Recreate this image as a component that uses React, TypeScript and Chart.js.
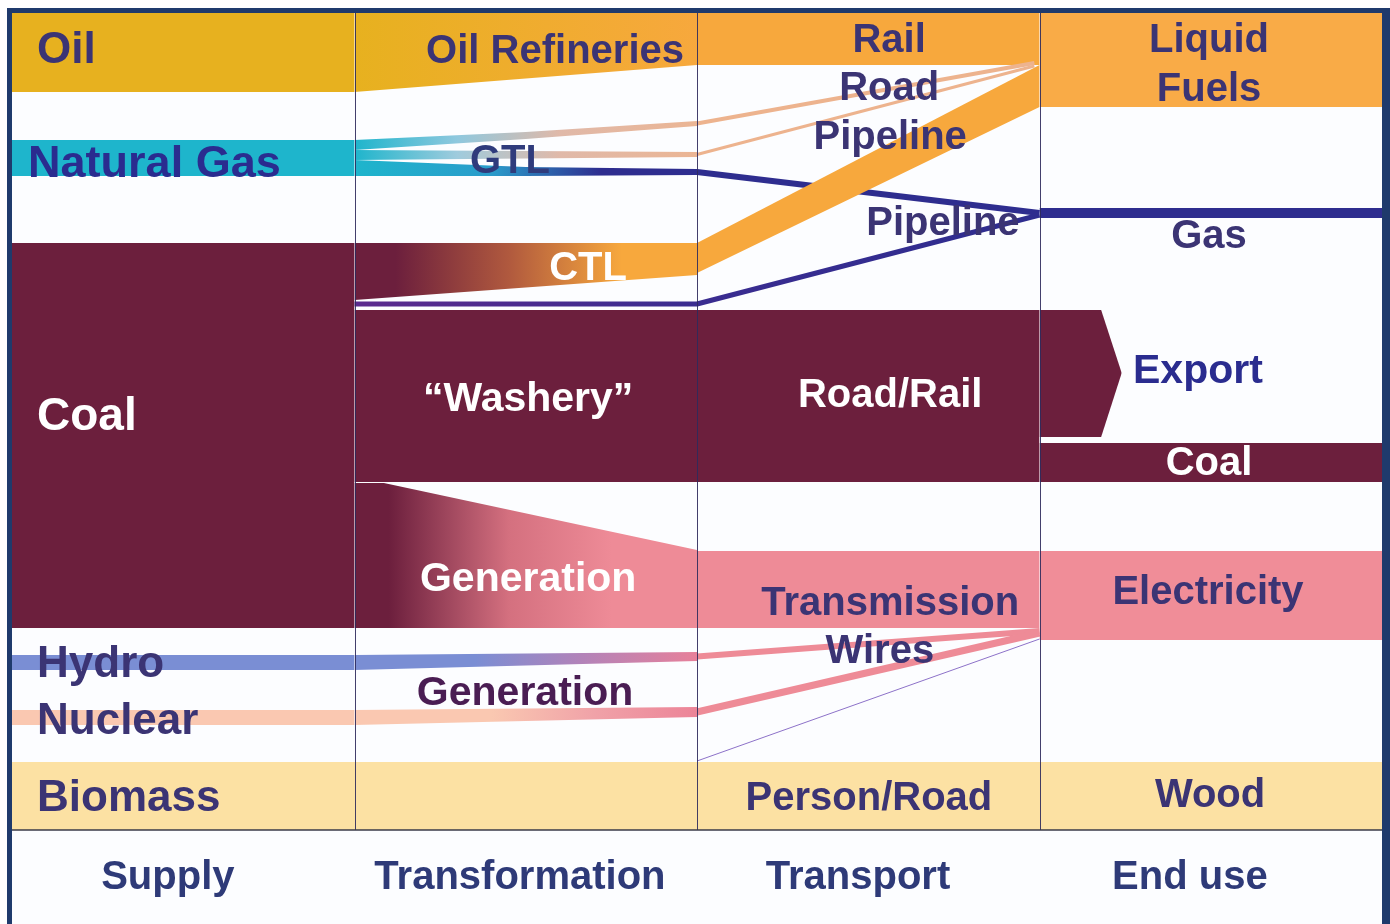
import React, { useEffect, useRef } from 'react';
import { Chart, registerables } from 'chart.js';

Chart.register(...registerables);

// ---------- stages (x axis: one unit per stage column, 0..4) ----------
const stageNames = ['Supply', 'Transformation', 'Transport', 'End use'];
const stageTickX = [0.455, 1.483, 2.47, 3.439];
const columnDividers = [1, 2, 3];
const diagramBottom = 830;

// ---------- bands: rows of [x, topY, bottomY] (y grows downward) ----------
const biomassBand = [[0, 762, 830], [4, 762, 830]];
const oilSupply = [[0, 13, 92], [1, 13, 92]];
const oilRefineries = [[1, 13, 92], [2, 13, 65]];
const railBand = [[2, 13, 65], [3, 13, 65]];
const liquidFuels = [[3, 13, 107], [4, 13, 107]];
const pipelineLiquid = [[2, 243, 273], [3, 65, 107]];
const gasSupply = [[0, 140, 176], [1, 140, 176]];
const gtlUpper = [[1, 140, 150], [1.5, 132, 139], [2, 121, 126]];
const gtlMiddle = [[1, 150, 160], [2, 152, 157]];
const gtlLower = [[1, 160, 176], [1.5, 167, 176], [2, 169, 175]];
const gasEndUse = [[3, 208, 218], [4, 208, 218]];
const coalSupply = [[0, 243, 628], [1, 243, 628]];
const ctlBand = [[1, 243, 300], [2, 243, 275]];
const washeryRoadRail = [[1, 310, 482], [3, 310, 482]];
const exportArrow = [[3, 310, 437], [3.18, 310, 437], [3.24, 373, 373]];
const coalEndUse = [[3, 443, 482], [4, 443, 482]];
const coalGeneration = [[1, 483, 628], [1.086, 483, 628], [2, 550, 628]];
const transmission = [[2, 551, 628], [3, 551, 628]];
const electricity = [[3, 551, 640], [4, 551, 640]];
const hydroSupply = [[0, 655, 670], [1, 655, 670]];
const hydroGeneration = [[1, 655, 670], [2, 652, 661]];
const nuclearSupply = [[0, 710, 725], [1, 710, 725]];
const nuclearGeneration = [[1, 710, 725], [2, 707, 717]];

// ---------- thin flows: rows of [x, y] ----------
const roadUpper = [[2, 123.5], [2.985, 63]];
const roadLower = [[2, 154.5], [2.985, 66]];
const gasPipelineGtl = [[2, 172], [3, 213]];
const gasPipelineCtl = [[1, 304], [2, 304], [3, 215]];
const hydroWires = [[2, 656.5], [3, 631]];
const nuclearWires = [[2, 712], [3, 633]];
const biomassWire = [[2, 761], [3, 639]];

// ---------- colours ----------
const C = {
  frame: '#1F3A6C',
  paper: '#FCFDFF',
  maroon: '#6C1F3D',
  gold: '#E7B11F',
  orange: '#F7A83D',
  liquid: '#F9AB47',
  cyan: '#1EB5CC',
  navy: '#2E2D8F',
  peach: '#EDB38E',
  pink: '#EE8B97',
  biomass: '#FCE1A3',
  hydro: '#7A8ED4',
  nuclear: '#FAC8B1',
  ink: '#3B3474',
  blueInk: '#2A2C8F',
  gtlInk: '#2F3B7C',
  genInk: '#4A1D53',
  white: '#FFFFFF',
  axisInk: '#2E3A78',
};

const FONT = '"Liberation Sans", Arial, Helvetica, sans-serif';

// ---------- labels: [text, x, baselineY, align, size, colour] ----------
const diagramLabels: [string, number, number, CanvasTextAlign, number, string][] = [
  ['Oil', 0.073, 63, 'left', 44, C.ink],
  ['Oil Refineries', 1.962, 63, 'right', 40, C.ink],
  ['Rail', 2.561, 52, 'center', 40, C.ink],
  ['Road', 2.561, 100, 'center', 40, C.ink],
  ['Pipeline', 2.564, 149, 'center', 40, C.ink],
  ['Liquid', 3.495, 52, 'center', 40, C.ink],
  ['Fuels', 3.495, 101, 'center', 40, C.ink],
  ['Natural Gas', 0.047, 177, 'left', 45, C.blueInk],
  ['GTL', 1.454, 173, 'center', 40, C.gtlInk],
  ['Pipeline', 2.718, 235, 'center', 40, C.ink],
  ['Gas', 3.495, 248, 'center', 40, C.ink],
  ['CTL', 1.682, 280, 'center', 40, C.white],
  ['Coal', 0.073, 430, 'left', 46, C.white],
  ['\u201CWashery\u201D', 1.507, 411, 'center', 41, C.white],
  ['Road/Rail', 2.564, 407, 'center', 40, C.white],
  ['Export', 3.273, 383, 'left', 41, C.blueInk],
  ['Coal', 3.495, 475, 'center', 40, C.white],
  ['Generation', 1.507, 591, 'center', 41, C.white],
  ['Transmission', 2.564, 615, 'center', 40, C.ink],
  ['Electricity', 3.492, 604, 'center', 40, C.ink],
  ['Wires', 2.534, 663, 'center', 40, C.ink],
  ['Hydro', 0.073, 677, 'left', 44, C.ink],
  ['Generation', 1.498, 705, 'center', 41, C.genInk],
  ['Nuclear', 0.073, 734, 'left', 44, C.ink],
  ['Biomass', 0.073, 811, 'left', 44, C.ink],
  ['Person/Road', 2.502, 810, 'center', 40, C.ink],
  ['Wood', 3.498, 807, 'center', 40, C.ink],
];

type Stop = [number, string];
const gradient = (x0: number, x1: number, stops: Stop[]) => (ctx: any) => {
  const chart = ctx.chart;
  const xs = chart && chart.scales && chart.scales.x;
  if (!chart || !chart.chartArea || !xs) return stops[stops.length - 1][1];
  const g = chart.ctx.createLinearGradient(xs.getPixelForValue(x0), 0, xs.getPixelForValue(x1), 0);
  stops.forEach(([o, c]) => g.addColorStop(o, c));
  return g;
};

type Layer =
  | { kind: 'band'; rows: number[][]; color: any }
  | { kind: 'line'; rows: number[][]; color: any; width: number };

const layers: Layer[] = [
  { kind: 'band', rows: biomassBand, color: C.biomass },
  { kind: 'band', rows: oilSupply, color: C.gold },
  { kind: 'band', rows: oilRefineries, color: gradient(1, 2, [[0, C.gold], [1, C.orange]]) },
  { kind: 'band', rows: railBand, color: C.orange },
  { kind: 'band', rows: liquidFuels, color: C.liquid },
  { kind: 'line', rows: roadUpper, color: C.peach, width: 4 },
  { kind: 'line', rows: roadLower, color: C.peach, width: 3 },
  { kind: 'line', rows: gasPipelineGtl, color: C.navy, width: 6 },
  { kind: 'band', rows: pipelineLiquid, color: C.orange },
  { kind: 'band', rows: gasSupply, color: C.cyan },
  { kind: 'band', rows: gtlUpper, color: gradient(1, 2, [[0, C.cyan], [0.3, '#8FC8DE'], [0.6, '#E0B9A9'], [1, '#EBB594']]) },
  { kind: 'band', rows: gtlMiddle, color: gradient(1, 2, [[0, C.cyan], [0.3, '#9FCBDD'], [0.6, '#E0B9A9'], [1, '#EBB594']]) },
  { kind: 'band', rows: gtlLower, color: gradient(1, 2, [[0, C.cyan], [0.4, '#2A9CCB'], [0.72, C.navy], [1, C.navy]]) },
  { kind: 'band', rows: gasEndUse, color: C.navy },
  { kind: 'band', rows: coalSupply, color: C.maroon },
  { kind: 'band', rows: ctlBand, color: gradient(1, 2, [[0, C.maroon], [0.12, C.maroon], [0.45, '#B0593E'], [0.78, C.orange], [1, C.orange]]) },
  { kind: 'line', rows: gasPipelineCtl, color: gradient(1, 3, [[0, '#5B2A8E'], [0.5, '#3A2C90'], [1, C.navy]]), width: 5 },
  { kind: 'band', rows: washeryRoadRail, color: C.maroon },
  { kind: 'band', rows: exportArrow, color: C.maroon },
  { kind: 'band', rows: coalEndUse, color: C.maroon },
  { kind: 'band', rows: coalGeneration, color: gradient(1, 2, [[0, C.maroon], [0.1, C.maroon], [0.45, '#D4707F'], [0.75, C.pink], [1, C.pink]]) },
  { kind: 'band', rows: transmission, color: C.pink },
  { kind: 'band', rows: electricity, color: '#F08D98' },
  { kind: 'band', rows: hydroSupply, color: C.hydro },
  { kind: 'band', rows: hydroGeneration, color: gradient(1, 2, [[0, C.hydro], [0.35, C.hydro], [0.65, '#B083BA'], [1, '#E7809A']]) },
  { kind: 'band', rows: nuclearSupply, color: C.nuclear },
  { kind: 'band', rows: nuclearGeneration, color: gradient(1, 2, [[0, C.nuclear], [0.4, C.nuclear], [0.7, '#F0A2A8'], [1, '#EC8498']]) },
  { kind: 'line', rows: hydroWires, color: C.pink, width: 6 },
  { kind: 'line', rows: nuclearWires, color: C.pink, width: 7 },
  { kind: 'line', rows: biomassWire, color: '#8D72C9', width: 1 },
];

const common = { pointRadius: 0, pointHoverRadius: 0, tension: 0, showLine: true };

function buildDatasets() {
  const out: any[] = [];
  layers.forEach((layer, i) => {
    const order = 1000 - i;
    if (layer.kind === 'band') {
      out.push({
        ...common,
        data: layer.rows.map((r) => ({ x: r[0], y: r[1] })),
        fill: '+1',
        backgroundColor: layer.color,
        borderColor: 'rgba(0,0,0,0)',
        borderWidth: 0,
        order,
      });
      out.push({
        ...common,
        data: layer.rows.map((r) => ({ x: r[0], y: r[2] })),
        fill: false,
        backgroundColor: 'rgba(0,0,0,0)',
        borderColor: 'rgba(0,0,0,0)',
        borderWidth: 0,
        order,
      });
    } else {
      out.push({
        ...common,
        data: layer.rows.map((r) => ({ x: r[0], y: r[1] })),
        fill: false,
        borderColor: layer.color,
        backgroundColor: 'rgba(0,0,0,0)',
        borderWidth: layer.width,
        borderCapStyle: 'butt',
        borderJoinStyle: 'round',
        order,
      });
    }
  });
  return out;
}

const framePlugin = {
  id: 'frame',
  beforeDraw(chart: any) {
    const { ctx, chartArea: ca, width, height } = chart;
    ctx.save();
    ctx.fillStyle = '#FFFFFF';
    ctx.fillRect(0, 0, width, height);
    ctx.fillStyle = C.frame;
    ctx.fillRect(ca.left - 5, ca.top - 5, width - ca.left + 5, height - ca.top + 5);
    ctx.fillStyle = C.paper;
    ctx.fillRect(ca.left, ca.top, ca.right - ca.left, height - ca.top);
    ctx.restore();
  },
};

const decorPlugin = {
  id: 'decor',
  afterDatasetsDraw(chart: any) {
    const { ctx } = chart;
    const x = chart.scales.x;
    const y = chart.scales.y;
    ctx.save();
    ctx.strokeStyle = 'rgba(46,42,92,0.9)';
    ctx.lineWidth = 1;
    columnDividers.forEach((d) => {
      const px = Math.round(x.getPixelForValue(d)) + 0.5;
      ctx.beginPath();
      ctx.moveTo(px, y.getPixelForValue(13));
      ctx.lineTo(px, y.getPixelForValue(diagramBottom));
      ctx.stroke();
    });
    ctx.strokeStyle = '#3A3A48';
    ctx.lineWidth = 1.5;
    ctx.beginPath();
    ctx.moveTo(x.getPixelForValue(0), y.getPixelForValue(diagramBottom));
    ctx.lineTo(x.getPixelForValue(4), y.getPixelForValue(diagramBottom));
    ctx.stroke();
    diagramLabels.forEach(([text, lx, ly, align, size, color]) => {
      ctx.font = `bold ${size}px ${FONT}`;
      ctx.fillStyle = color;
      ctx.textAlign = align;
      ctx.textBaseline = 'alphabetic';
      ctx.fillText(text, x.getPixelForValue(lx), y.getPixelForValue(ly));
    });
    ctx.restore();
  },
};

export default function App() {
  const ref = useRef<HTMLCanvasElement>(null);
  useEffect(() => {
    document.body.style.margin = '0';
    Chart.defaults.font.family = FONT;
    const chart = new Chart(ref.current as HTMLCanvasElement, {
      type: 'line',
      data: { datasets: buildDatasets() },
      options: {
        responsive: false,
        maintainAspectRatio: false,
        animation: false,
        events: [],
        layout: { padding: { left: 12, top: 13, right: 8, bottom: 8 } },
        plugins: {
          legend: { display: false },
          tooltip: { enabled: false },
          filler: { propagate: false },
        },
        scales: {
          x: {
            type: 'linear',
            min: 0,
            max: 4,
            grid: { display: false, drawTicks: false },
            border: { display: false },
            afterBuildTicks: (scale: any) => {
              scale.ticks = stageTickX.map((v) => ({ value: v }));
            },
            afterFit: (scale: any) => {
              scale.height = 86;
            },
            ticks: {
              autoSkip: false,
              maxRotation: 0,
              minRotation: 0,
              padding: 24,
              color: C.axisInk,
              font: { family: FONT, size: 40, weight: 'bold' },
              callback: (_v: any, i: number) => stageNames[i],
            },
          },
          y: {
            type: 'linear',
            min: 13,
            max: diagramBottom,
            reverse: true,
            display: false,
          },
        },
      } as any,
      plugins: [framePlugin, decorPlugin],
    });
    return () => chart.destroy();
  }, []);
  return (
    <div style={{ width: 1390, height: 924 }}>
      <canvas ref={ref} width={1390} height={924} style={{ display: 'block' }} />
    </div>
  );
}
